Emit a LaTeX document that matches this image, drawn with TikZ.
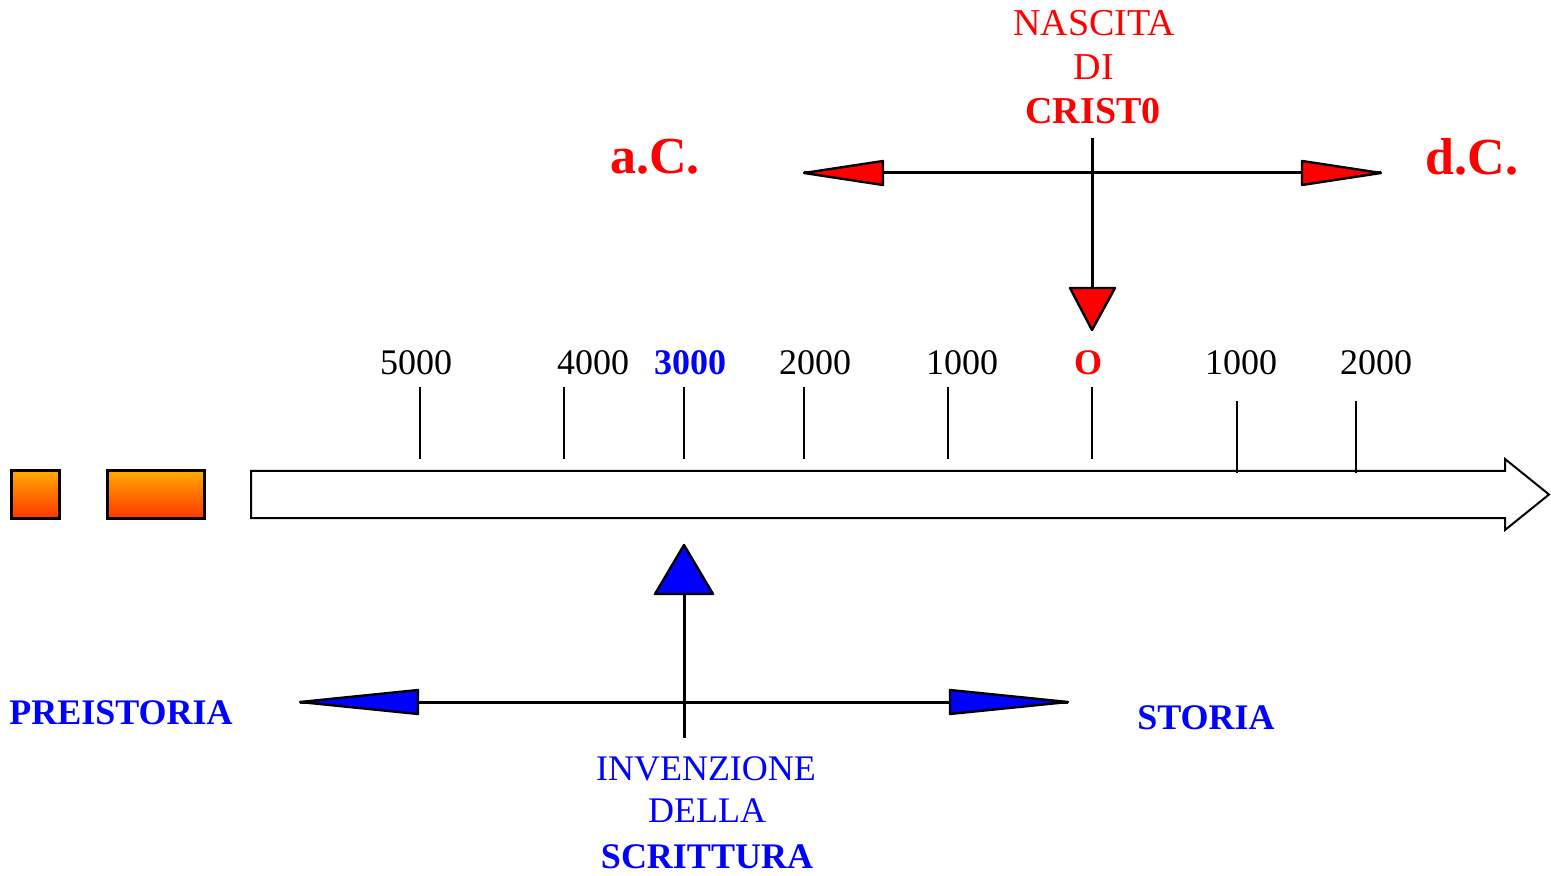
\documentclass[tikz,border=0pt]{standalone}
\usepackage{fontspec}
\setmainfont{Liberation Serif}
\definecolor{myred}{RGB}{255,0,0}
\definecolor{myblue}{RGB}{0,0,255}
\definecolor{orangetop}{RGB}{255,170,0}
\definecolor{orangebot}{RGB}{255,55,0}
\begin{document}
\begin{tikzpicture}[x=0.5pt,y=-0.5pt,
  txt/.style={inner sep=0pt,anchor=center,font=\fontsize{18}{20}\selectfont},
  redtxt/.style={txt,text=myred,font=\fontsize{19}{21}\selectfont},
  bigred/.style={inner sep=0pt,anchor=center,text=myred,font=\fontsize{26}{28}\selectfont\bfseries},
  bluetxt/.style={txt,text=myblue},
  conn/.style={line width=1.5pt},
  tick/.style={line width=1pt},
  headred/.style={fill=myred,draw=black,line width=1.2pt,line join=round},
  headblue/.style={fill=myblue,draw=black,line width=1.2pt,line join=round},
  obox/.style={draw=black,line width=1.5pt,top color=orangetop,bottom color=orangebot,inner sep=0pt}]
\useasboundingbox (0,0) rectangle (1551,876);

% orange boxes
\node[obox,minimum width=24pt,minimum height=23.5pt] (box1) at (35,494.5) {};
\node[obox,minimum width=48.5pt,minimum height=23.5pt] (box2) at (155.5,494.5) {};

% big arrow
\draw[line width=1pt,fill=white,line join=miter] (251,471) -- (1505,471) -- (1505,459) -- (1549,494.5) -- (1505,530) -- (1505,518) -- (251,518) -- cycle;

% ticks
\foreach \n/\x/\ya/\yb in {a/420/387/459, b/564/387/459, c/684/387/459, d/804/387/459, e/948/387/459, f/1092/387/459, g/1237/401/473, h/1356/401/473}{
  \coordinate (t\n top) at (\x,\ya);
  \coordinate (t\n bot) at (\x,\yb);
  \draw[tick] (t\n top) -- (t\n bot);
}

% tick labels
\node[txt] (l5000) at (416,363) {5000};
\node[txt] (l4000) at (593,363) {4000};
\node[txt,text=myblue,font=\fontsize{18}{20}\selectfont\bfseries] (l3000) at (690,363) {3000};
\node[txt] (l2000) at (815,363) {2000};
\node[txt] (l1000) at (962,363) {1000};
\node[txt,text=myred,font=\fontsize{18}{20}\selectfont\bfseries] (l0) at (1088,363) {O};
\node[txt] (r1000) at (1241,363) {1000};
\node[txt] (r2000) at (1376,363) {2000};

% red part
\node[redtxt] (nascita) at (1094,23) {NASCITA};
\node[redtxt] (di) at (1094,67) {DI};
\node[redtxt,font=\fontsize{19}{21}\selectfont\bfseries] (cristo) at (1093,111) {CRIST0};
\node[bigred] (ac) at (655,157) {a.C.};
\node[bigred] (dc) at (1472,157) {d.C.};

\coordinate (rl) at (804,173);
\coordinate (rlb) at (883,173);
\coordinate (rr) at (1381,173);
\coordinate (rrb) at (1302,173);
\coordinate (vt) at (1092,138);
\coordinate (vb) at (1092,288);
\coordinate (vtip) at (1092,330);
\draw[conn] (rl) -- (rr);
\draw[conn] (vt) -- (vb);
\draw[headred] (rl) -- ([yshift=-6pt]rlb) -- ([yshift=6pt]rlb) -- cycle;
\draw[headred] (rr) -- ([yshift=-6pt]rrb) -- ([yshift=6pt]rrb) -- cycle;
\draw[headred] (vtip) -- ([xshift=-11pt]vb) -- ([xshift=11.5pt]vb) -- cycle;

% blue part
\node[bluetxt,font=\fontsize{18}{20}\selectfont\bfseries] (preistoria) at (121,713) {PREISTORIA};
\node[bluetxt,font=\fontsize{18}{20}\selectfont\bfseries] (storia) at (1206,718) {STORIA};
\node[bluetxt] (inv) at (706,769) {INVENZIONE};
\node[bluetxt] (della) at (707,811) {DELLA};
\node[bluetxt,font=\fontsize{18}{20}\selectfont\bfseries] (scrittura) at (707,857) {SCRITTURA};

\coordinate (bl) at (300,702);
\coordinate (blb) at (418,702);
\coordinate (br) at (1068,702);
\coordinate (brb) at (950,702);
\coordinate (ut) at (684,594);
\coordinate (ub) at (684,738);
\coordinate (utip) at (684,545);
\draw[conn] (bl) -- (br);
\draw[conn] (ub) -- (ut);
\draw[headblue] (bl) -- ([yshift=-6pt]blb) -- ([yshift=6pt]blb) -- cycle;
\draw[headblue] (br) -- ([yshift=-6pt]brb) -- ([yshift=6pt]brb) -- cycle;
\draw[headblue] (utip) -- ([xshift=-14.5pt]ut) -- ([xshift=14.5pt]ut) -- cycle;
\end{tikzpicture}
\end{document}
